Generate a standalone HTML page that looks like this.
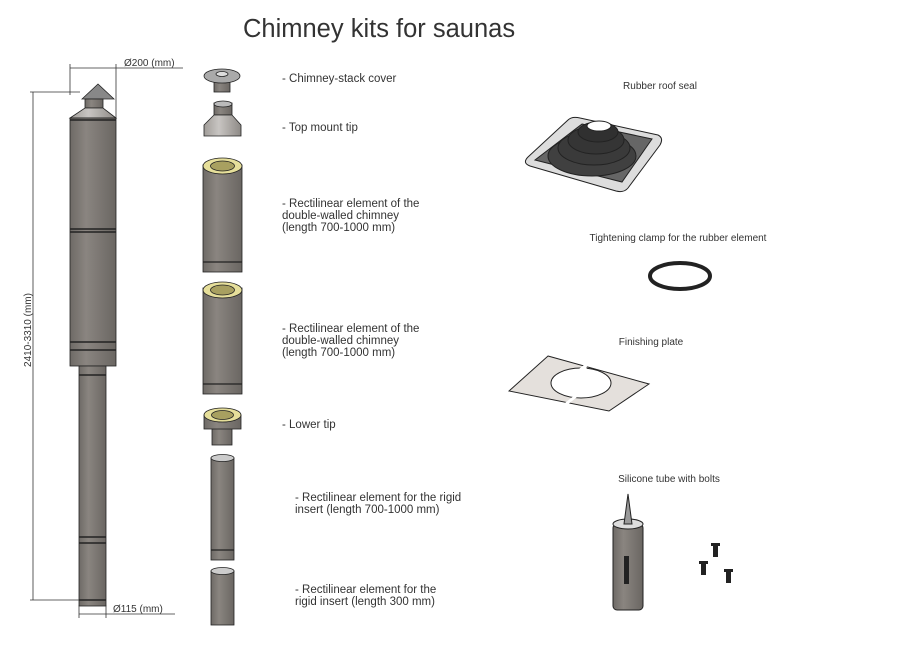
<!DOCTYPE html>
<html><head><meta charset="utf-8"><style>
html,body{margin:0;padding:0;background:#fff;}
svg{display:block;font-family:"Liberation Sans",sans-serif;}
.l{font-size:11.5px;fill:#333;}
.s{font-size:10px;fill:#333;}
</style></head><body>
<svg width="897" height="653" viewBox="0 0 897 653">
<defs>
<linearGradient id="g" x1="0" x2="1"><stop offset="0" stop-color="#6e6a66"/><stop offset="0.35" stop-color="#8a8580"/><stop offset="1" stop-color="#6a6662"/></linearGradient>
<linearGradient id="gl" x1="0" x2="1"><stop offset="0" stop-color="#a09c98"/><stop offset="0.4" stop-color="#c8c5c2"/><stop offset="1" stop-color="#8e8a86"/></linearGradient>
</defs>
<text x="243" y="37" font-size="25.5" fill="#333">Chimney kits for saunas</text>

<!-- left chimney -->
<g stroke="#222" stroke-width="0.8">
<path d="M82 99 L98 84 L114 99 Z" fill="#888"/>
<rect x="85" y="99" width="18" height="9" fill="url(#g)"/>
<path d="M85 108 L103 108 L116 118 L70 118 Z" fill="url(#gl)"/>
<rect x="70" y="118" width="46" height="248" fill="url(#g)"/>
<rect x="79" y="366" width="27" height="240" fill="url(#g)"/>
</g>
<g stroke="#222" stroke-width="1.5">
<line x1="70" y1="120" x2="116" y2="120"/><line x1="70" y1="229" x2="116" y2="229"/><line x1="70" y1="232" x2="116" y2="232"/>
<line x1="70" y1="342" x2="116" y2="342"/><line x1="70" y1="350" x2="116" y2="350"/>
<line x1="79" y1="375" x2="106" y2="375"/><line x1="79" y1="537" x2="106" y2="537"/><line x1="79" y1="543" x2="106" y2="543"/><line x1="79" y1="600" x2="106" y2="600"/>
</g>
<g stroke="#333" stroke-width="0.8" fill="none">
<line x1="70" y1="68" x2="183" y2="68"/><line x1="70" y1="64" x2="70" y2="95"/><line x1="116" y1="64" x2="116" y2="118"/>
<line x1="30" y1="92" x2="80" y2="92"/><line x1="33" y1="92" x2="33" y2="600"/><line x1="30" y1="600" x2="79" y2="600"/>
<line x1="79" y1="605" x2="79" y2="618"/><line x1="106" y1="605" x2="106" y2="618"/><line x1="79" y1="614" x2="175" y2="614"/>
</g>
<text x="124" y="66" class="s">Ø200 (mm)</text>
<text x="113" y="612" class="s">Ø115 (mm)</text>
<text class="s" transform="translate(31 330) rotate(-90)" text-anchor="middle">2410-3310 (mm)</text>

<!-- middle column -->
<g stroke="#222" stroke-width="0.8">
<rect x="214" y="78" width="16" height="14" fill="url(#g)"/>
<ellipse cx="222" cy="76" rx="18" ry="7" fill="#aaa"/><ellipse cx="222" cy="74" rx="6" ry="2.5" fill="#ddd"/>
<rect x="214" y="103" width="18" height="12" fill="url(#g)"/><ellipse cx="223" cy="104" rx="9" ry="3" fill="#bbb"/>
<path d="M214 115 L232 115 L241 125 L241 136 L204 136 L204 125 Z" fill="url(#gl)"/>
<rect x="203" y="165" width="39" height="107" fill="url(#g)"/>
<ellipse cx="222.5" cy="166" rx="19.5" ry="8" fill="#e6df9a"/><ellipse cx="222.5" cy="166" rx="12" ry="5" fill="#a8a060"/>
<rect x="203" y="288" width="39" height="106" fill="url(#g)"/>
<ellipse cx="222.5" cy="290" rx="19.5" ry="8" fill="#e6df9a"/><ellipse cx="222.5" cy="290" rx="12" ry="5" fill="#a8a060"/>
<rect x="212" y="425" width="20" height="20" fill="url(#g)"/>
<rect x="204" y="415" width="37" height="14" fill="url(#g)"/>
<ellipse cx="222.5" cy="415" rx="18.5" ry="7" fill="#e6df9a"/><ellipse cx="222.5" cy="415" rx="11" ry="4.5" fill="#a8a060"/>
<rect x="211" y="458" width="23" height="102" fill="url(#g)"/><ellipse cx="222.5" cy="458" rx="11.5" ry="3.5" fill="#ccc"/>
<rect x="211" y="571" width="23" height="54" fill="url(#g)"/><ellipse cx="222.5" cy="571" rx="11.5" ry="3.5" fill="#ccc"/>
</g>
<g stroke="#222" stroke-width="1.2"><line x1="203" y1="262" x2="242" y2="262"/><line x1="203" y1="384" x2="242" y2="384"/><line x1="211" y1="550" x2="234" y2="550"/></g>

<text x="282" y="82" class="l">- Chimney-stack cover</text>
<text x="282" y="131" class="l">- Top mount tip</text>
<text x="282" y="207" class="l">- Rectilinear element of the</text>
<text x="282" y="219" class="l">double-walled chimney</text>
<text x="282" y="231" class="l">(length 700-1000 mm)</text>
<text x="282" y="332" class="l">- Rectilinear element of the</text>
<text x="282" y="344" class="l">double-walled chimney</text>
<text x="282" y="356" class="l">(length 700-1000 mm)</text>
<text x="282" y="428" class="l">- Lower tip</text>
<text x="295" y="501" class="l">- Rectilinear element for the rigid</text>
<text x="295" y="513" class="l">insert (length 700-1000 mm)</text>
<text x="295" y="593" class="l">- Rectilinear element for the</text>
<text x="295" y="605" class="l">rigid insert (length 300 mm)</text>

<!-- right -->
<text x="660" y="89" class="s" text-anchor="middle">Rubber roof seal</text>
<path d="M580 118 L658 135 Q664 138 660 145 L628 188 Q624 193 616 191 L530 166 Q522 163 528 157 L568 120 Q572 116 580 118 Z" fill="#ddd" stroke="#222"/>
<path d="M582 124 L652 139 L622 182 L535 160 Z" fill="#666" stroke="#222"/>
<ellipse cx="592" cy="156" rx="44" ry="20" fill="#404040" stroke="#222"/>
<ellipse cx="594" cy="148" rx="36" ry="17" fill="#3a3a3a" stroke="#222"/>
<ellipse cx="596" cy="140" rx="28" ry="14" fill="#353535" stroke="#222"/>
<ellipse cx="598" cy="132" rx="20" ry="10" fill="#303030" stroke="#222"/>
<ellipse cx="599" cy="126" rx="12" ry="5" fill="#fff" stroke="#222"/>
<text x="678" y="241" class="s" text-anchor="middle">Tightening clamp for the rubber element</text>
<ellipse cx="680" cy="276" rx="30" ry="13" fill="none" stroke="#222" stroke-width="4"/>
<text x="651" y="345" class="s" text-anchor="middle">Finishing plate</text>
<path d="M548 356 L649 384 L609 411 L509 391 Z" fill="#e4e0dc" stroke="#222"/>
<ellipse cx="581" cy="383" rx="30" ry="15" fill="#fff" stroke="#222"/>
<line x1="586" y1="367" x2="582" y2="369" stroke="#fff" stroke-width="4"/>
<line x1="588" y1="364" x2="580" y2="370" stroke="#fff" stroke-width="3"/>
<line x1="576" y1="396" x2="566" y2="404" stroke="#fff" stroke-width="3"/>
<text x="669" y="482" class="s" text-anchor="middle">Silicone tube with bolts</text>
<rect x="613" y="524" width="30" height="86" rx="4" fill="url(#g)" stroke="#222"/>
<ellipse cx="628" cy="524" rx="15" ry="5" fill="#ddd" stroke="#222"/>
<path d="M624 524 L628 494 L632 524 Z" fill="#999" stroke="#222"/>
<rect x="624" y="556" width="5" height="28" fill="#222"/>
<g fill="#222"><rect x="713" y="545" width="5" height="12"/><rect x="711" y="543" width="9" height="3"/>
<rect x="701" y="563" width="5" height="12"/><rect x="699" y="561" width="9" height="3"/>
<rect x="726" y="571" width="5" height="12"/><rect x="724" y="569" width="9" height="3"/></g>
</svg>
</body></html>
